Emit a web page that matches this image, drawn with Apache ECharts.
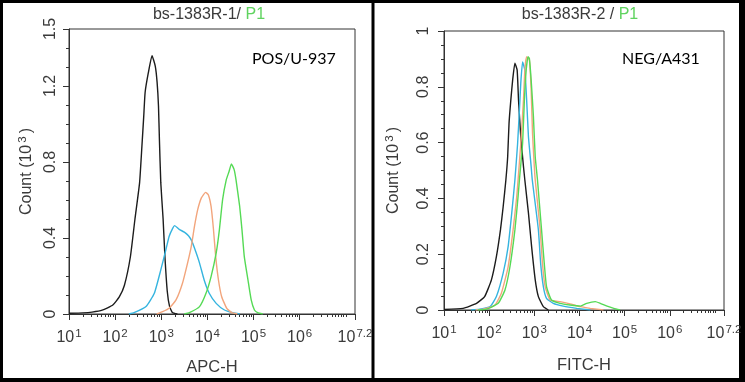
<!DOCTYPE html>
<html><head><meta charset="utf-8">
<script src="https://cdn.jsdelivr.net/npm/echarts@6/dist/echarts.min.js"></script>
<style>html,body{margin:0;padding:0;background:#fff}#c{width:745px;height:382px}</style>
</head><body><div id="c"></div>
<script>
// ---- tick values / labels ----
const xTickValues = [1, 2, 3, 4, 5, 6, 7.2];          // decade exponents
const xTickLabels = ['1', '2', '3', '4', '5', '6', '7.2'];
const posYTicks = [0, 0.4, 0.8, 1.2, 1.5];
const negYTicks = [0, 0.2, 0.4, 0.6, 0.8, 1];

// ---- left panel: bs-1383R-1 / POS U-937 ([log10 intensity, count x10^3]) ----
const posBlack = [[1.0,0.004],[1.3,0.006],[1.5,0.01],[1.72,0.02],[1.95,0.047],[2.09,0.09],[2.2,0.15],[2.33,0.3],[2.43,0.5],[2.53,0.69],[2.58,0.88],[2.62,1.04],[2.65,1.166],[2.72,1.27],[2.8,1.36],[2.87,1.305],[2.91,1.219],[2.94,1.094],[2.96,0.918],[2.99,0.69],[3.04,0.5],[3.08,0.3],[3.13,0.12],[3.18,0.04],[3.24,0.008],[3.35,0]];
const posCyan = [[2.3,0],[2.41,0.007],[2.67,0.039],[2.85,0.109],[2.99,0.232],[3.1,0.338],[3.17,0.408],[3.25,0.452],[3.29,0.465],[3.39,0.445],[3.5,0.431],[3.59,0.412],[3.65,0.39],[3.72,0.347],[3.83,0.268],[3.93,0.179],[4.04,0.109],[4.19,0.056],[4.37,0.021],[4.55,0.007],[4.7,0]];
const posOrange = [[2.9,0],[3.03,0.012],[3.17,0.03],[3.32,0.074],[3.46,0.162],[3.57,0.268],[3.65,0.355],[3.72,0.461],[3.79,0.549],[3.87,0.611],[3.96,0.64],[4.02,0.628],[4.08,0.566],[4.13,0.45],[4.18,0.302],[4.24,0.179],[4.31,0.091],[4.42,0.03],[4.53,0.007],[4.65,0]];
const posGreen = [[3.5,0],[3.61,0.007],[3.83,0.039],[3.97,0.109],[4.08,0.197],[4.19,0.32],[4.26,0.443],[4.33,0.602],[4.41,0.707],[4.47,0.75],[4.52,0.79],[4.58,0.76],[4.62,0.707],[4.7,0.566],[4.75,0.443],[4.8,0.302],[4.88,0.179],[4.95,0.074],[5.02,0.021],[5.09,0.007],[5.2,0]];

// ---- right panel: bs-1383R-2 / NEG A431 ----
const negBlack = [[1.0,0.002],[1.42,0.006],[1.72,0.024],[1.9,0.048],[2.05,0.108],[2.16,0.191],[2.25,0.287],[2.31,0.37],[2.37,0.466],[2.41,0.549],[2.44,0.669],[2.48,0.753],[2.52,0.824],[2.57,0.885],[2.62,0.86],[2.65,0.753],[2.7,0.621],[2.76,0.514],[2.79,0.466],[2.87,0.347],[2.94,0.227],[3.02,0.108],[3.09,0.048],[3.2,0.012],[3.31,0]];
const negCyan = [[1.6,0],[1.79,0.003],[2.02,0.012],[2.16,0.048],[2.31,0.132],[2.42,0.227],[2.5,0.347],[2.57,0.466],[2.63,0.597],[2.67,0.717],[2.7,0.813],[2.74,0.889],[2.79,0.86],[2.83,0.753],[2.87,0.621],[2.93,0.514],[2.955,0.466],[3.09,0.287],[3.14,0.167],[3.2,0.084],[3.27,0.042],[3.42,0.024],[3.64,0.014],[3.94,0.006],[4.24,0]];
const negOrange = [[1.7,0],[1.87,0.003],[2.13,0.018],[2.27,0.06],[2.42,0.155],[2.53,0.287],[2.61,0.406],[2.64,0.466],[2.7,0.597],[2.76,0.753],[2.79,0.86],[2.83,0.908],[2.89,0.896],[2.93,0.789],[2.96,0.633],[3.0,0.514],[3.02,0.466],[3.13,0.287],[3.18,0.167],[3.24,0.084],[3.35,0.036],[3.57,0.03],[3.79,0.022],[4.02,0.012],[4.24,0.006],[4.53,0]];
const negGreen = [[1.75,0],[1.94,0.003],[2.2,0.024],[2.35,0.072],[2.46,0.155],[2.57,0.287],[2.64,0.406],[2.67,0.466],[2.74,0.597],[2.78,0.753],[2.82,0.86],[2.86,0.908],[2.89,0.902],[2.93,0.824],[2.98,0.693],[3.02,0.549],[3.07,0.466],[3.16,0.287],[3.22,0.167],[3.27,0.084],[3.38,0.036],[3.57,0.024],[3.79,0.018],[4.02,0.014],[4.16,0.024],[4.35,0.03],[4.46,0.024],[4.61,0.014],[4.76,0.006],[4.9,0]];

// ---- styling ----
const FONT = "'Liberation Sans', Arial, sans-serif";
const TXT = '#3a3a3a';
const AX = '#333';
const C_BLACK = '#1c1c1c', C_CYAN = '#35b4df', C_ORANGE = '#f2a57c', C_GREEN = '#55da55';

// minor tick positions (log minor ticks on x, linear minor ticks on y)
const minorX = [];
for (let n = 1; n <= 7; n++) for (let k = 1; k <= 9; k++) {
  const v = n + Math.log10(k);
  if (v <= 7.2 + 1e-9) minorX.push(+v.toFixed(4));
}
const posMinorY = []; for (let i = 0; i <= 15; i++) posMinorY.push(+(i * 0.1).toFixed(2));
const negMinorY = []; for (let i = 0; i <= 20; i++) negMinorY.push(+(i * 0.05).toFixed(2));

const supRich = {
  b: { fontSize: 16, fontFamily: FONT, color: TXT, verticalAlign: 'bottom', lineHeight: 18 },
  s: { fontSize: 11.5, fontFamily: FONT, color: TXT, verticalAlign: 'top', lineHeight: 18, padding: [0, 0, 0, 1] }
};
function xLabel(v) {
  const i = xTickValues.findIndex(t => Math.abs(t - v) < 1e-6);
  return '{b|10}{s|' + (i >= 0 ? xTickLabels[i] : v) + '}';
}
const yNameRich = {
  a: { fontSize: 16, fontFamily: FONT, color: TXT, verticalAlign: 'bottom', lineHeight: 18 },
  s: { fontSize: 11.5, fontFamily: FONT, color: TXT, verticalAlign: 'top', lineHeight: 18, padding: [0, 3, 0, 2] }
};

function mainX(grid, name, gap) {
  return {
    gridIndex: grid, type: 'value', min: 1, max: 7.2, position: 'bottom',
    axisLine: { show: true, onZero: false, lineStyle: { color: AX, width: 1 } },
    axisTick: { show: true, customValues: xTickValues, length: 6, lineStyle: { color: AX } },
    axisLabel: { customValues: xTickValues, formatter: xLabel, rich: supRich, margin: 14, color: TXT },
    splitLine: { show: false },
    name: name, nameLocation: 'middle', nameGap: gap,
    nameTextStyle: { fontSize: 16.5, fontFamily: FONT, color: TXT }
  };
}
function minorXAxis(grid) {
  return {
    gridIndex: grid, type: 'value', min: 1, max: 7.2, position: 'bottom',
    axisLine: { show: false, onZero: false },
    axisTick: { show: true, customValues: minorX, length: 3, lineStyle: { color: AX } },
    axisLabel: { show: false }, splitLine: { show: false }
  };
}
function mainY(grid, max, ticks, gap, margin) {
  return {
    gridIndex: grid, type: 'value', min: 0, max: max, position: 'left',
    axisLine: { show: true, onZero: false, lineStyle: { color: AX, width: 1 } },
    axisTick: { show: true, customValues: ticks, length: 6, lineStyle: { color: AX } },
    axisLabel: { customValues: ticks, rotate: 90, margin: margin, fontSize: 16, fontFamily: FONT, color: TXT,
                 formatter: v => String(v) },
    splitLine: { show: false },
    name: '{a|Count (10}{s|3}{a|)}', nameLocation: 'middle', nameGap: gap, nameRotate: 90,
    nameTextStyle: { rich: yNameRich }
  };
}
function minorYAxis(grid, max, ticks) {
  return {
    gridIndex: grid, type: 'value', min: 0, max: max, position: 'left',
    axisLine: { show: false, onZero: false },
    axisTick: { show: true, customValues: ticks, length: 3, lineStyle: { color: AX } },
    axisLabel: { show: false }, splitLine: { show: false }
  };
}
function line(data, color, xi, yi) {
  return { type: 'line', data: data, xAxisIndex: xi, yAxisIndex: yi, showSymbol: false, symbol: 'none',
           smooth: 0.15, lineStyle: { color: color, width: 1.4 }, itemStyle: { color: color },
           silent: true, animation: false };
}

const titleRich = {
  a: { fontSize: 16, fontFamily: FONT, fill: TXT },
  b: { fontSize: 16, fontFamily: FONT, fill: '#5fd35f' }
};

const option = {
  animation: false,
  backgroundColor: '#fff',
  grid: [
    { left: 69, top: 29, width: 286, height: 285, show: true, borderColor: AX, borderWidth: 1, backgroundColor: 'transparent' },
    { left: 444, top: 31, width: 280, height: 279, show: true, borderColor: AX, borderWidth: 1, backgroundColor: 'transparent' }
  ],
  xAxis: [ mainX(0, 'APC-H', 45), minorXAxis(0), mainX(1, 'FITC-H', 47), minorXAxis(1) ],
  yAxis: [ mainY(0, 1.5, posYTicks, 34, 10), minorYAxis(0, 1.5, posMinorY), mainY(1, 1, negYTicks, 42, 12), minorYAxis(1, 1, negMinorY) ],
  series: [
    line(posBlack, C_BLACK, 0, 0), line(posCyan, C_CYAN, 0, 0), line(posOrange, C_ORANGE, 0, 0), line(posGreen, C_GREEN, 0, 0),
    line(negBlack, C_BLACK, 2, 2), line(negCyan, C_CYAN, 2, 2), line(negOrange, C_ORANGE, 2, 2), line(negGreen, C_GREEN, 2, 2)
  ],
  graphic: [
    { type: 'text', x: 209, y: 15, style: { text: '{a|bs-1383R-1/ }{b|P1}', rich: titleRich, align: 'center', verticalAlign: 'middle' } },
    { type: 'text', x: 580, y: 15, style: { text: '{a|bs-1383R-2 / }{b|P1}', rich: titleRich, align: 'center', verticalAlign: 'middle' } },
    { type: 'text', x: 252, y: 59, style: { text: 'POS/U-937', font: "16px Lato, 'Open Sans', sans-serif", fill: '#000', align: 'left', verticalAlign: 'middle' } },
    { type: 'text', x: 622, y: 59, style: { text: 'NEG/A431', font: "16px Lato, 'Open Sans', sans-serif", fill: '#000', align: 'left', verticalAlign: 'middle' } },
    { type: 'rect', shape: { x: 0, y: 0, width: 745, height: 3 }, style: { fill: '#000' } },
    { type: 'rect', shape: { x: 0, y: 378, width: 745, height: 4 }, style: { fill: '#000' } },
    { type: 'rect', shape: { x: 0, y: 0, width: 3, height: 382 }, style: { fill: '#000' } },
    { type: 'rect', shape: { x: 739, y: 0, width: 6, height: 382 }, style: { fill: '#000' } },
    { type: 'rect', shape: { x: 371.5, y: 0, width: 3, height: 382 }, style: { fill: '#000' } }
  ]
};

const chart = echarts.init(document.getElementById('c'), null, { renderer: 'canvas' });
chart.setOption(option);
</script>
</body></html>
